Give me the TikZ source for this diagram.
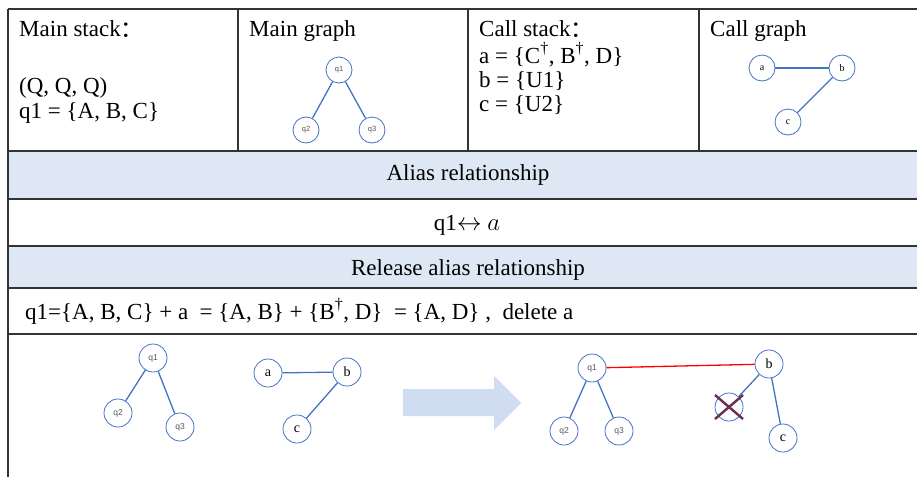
\documentclass[tikz,border=0pt]{standalone}
\usepackage{fontspec}
\setmainfont{Liberation Serif}
\newfontfamily\cjkf{Noto Sans CJK SC}
\newfontfamily\arialf{Liberation Sans}
\usetikzlibrary{calc}
\definecolor{gline}{HTML}{333333}
\definecolor{nodeblue}{HTML}{4472C4}
\definecolor{rowblue}{HTML}{DEE8F4}
\definecolor{arrowblue}{HTML}{D0DCEF}
\definecolor{labgray}{HTML}{555555}
\definecolor{navy}{HTML}{2F3F73}
\tikzset{
  grid/.style={draw=gline, line width=1.4pt},
  txt/.style={anchor=base west, inner sep=0pt, font=\fontsize{23}{26}\selectfont},
  ctxt/.style={anchor=base, inner sep=0pt, font=\fontsize{23}{26}\selectfont},
  qn/.style={circle, draw=nodeblue, line width=0.8pt, minimum size=#1, inner sep=0pt, text=labgray, font=\arialf\fontsize{7.5}{8}\selectfont},
  qn/.default=26pt,
  ln/.style={circle, draw=nodeblue, line width=0.8pt, minimum size=#1, inner sep=0pt, font=\fontsize{10}{11}\selectfont},
  ln/.default=26pt,
  bigq/.style={qn=28pt, font=\arialf\fontsize{8.5}{9}\selectfont},
  bigl/.style={ln=28pt, font=\fontsize{14}{15}\selectfont},
  edge/.style={draw=nodeblue, line width=1.3pt},
}
\begin{document}
\begin{tikzpicture}[x=1pt,y=-1pt]
\useasboundingbox (0,0) rectangle (917,477);
\fill[white] (0,0) rectangle (917,477);
% fills
\fill[rowblue] (8,151) rectangle (917,199);
\fill[rowblue] (8,246) rectangle (917,288);
% grid
\draw[grid] (8,9) -- (917,9);
\draw[grid] (8,9) -- (8,477);
\foreach \x in {238,468,699} \draw[grid] (\x,9) -- (\x,151);
\foreach \y in {151,199,246,288,334} \draw[grid] (8,\y) -- (917,\y);

% row 1 texts
\node[txt] (ms) at (19,36) {Main stack{\cjkf\raisebox{-1pt}{：}}};
\node[txt] (qqq) at (19,93) {(Q, Q, Q)};
\node[txt] (q1set) at (19,118) {q1 = \{A, B, C\}};
\node[txt] (mg) at (249,36) {Main graph};
\node[txt] (cs) at (479,36) {Call stack{\cjkf\raisebox{-1pt}{：}}};
\node[txt] (aset) at (479,63) {a = \{C\textsuperscript{†}, B\textsuperscript{†}, D\}};
\node[txt] (bset) at (479,87) {b = \{U1\}};
\node[txt] (cset) at (479,111) {c = \{U2\}};
\node[txt] (cg) at (710,36) {Call graph};

% main graph
\node[qn] (mq1) at (339,70) {q1};
\node[qn] (mq2) at (306,130) {q2};
\node[qn] (mq3) at (372,130) {q3};
\draw[edge] (mq1) -- (mq2);
\draw[edge] (mq1) -- (mq3);

% call graph
\node[ln] (ca) at (762,68) {a};
\node[ln] (cb) at (842,68) {b};
\node[ln] (cc) at (788,122) {c};
\draw[edge] (ca) -- (cb);
\draw[edge] (cb) -- (cc);

% rows
\node[ctxt] (alias) at (468,180) {Alias relationship};
\node[ctxt] (qa) at (467,230) {q1$\leftrightarrow$ $a$};
\node[ctxt] (rel) at (468,275) {Release alias relationship};
\node[txt] (formula) at (25,319) {q1=\{A, B, C\} + a~ = \{A, B\} + \{B\textsuperscript{†}, D\}~ = \{A, D\} ,~ delete a};

% bottom left graphs
\node[bigq] (lq1) at (153,358) {q1};
\node[bigq] (lq2) at (118,413) {q2};
\node[bigq] (lq3) at (180,427) {q3};
\draw[edge] (lq1) -- (lq2);
\draw[edge] (lq1) -- (lq3);
\node[bigl] (la) at (268,373) {a};
\node[bigl] (lb) at (347,372) {b};
\node[bigl] (lc) at (297,429) {c};
\draw[edge] (la) -- (lb);
\draw[edge] (lb) -- (lc);

% big arrow
\fill[arrowblue] (403,389) -- (494,389) -- (494,376) -- (521,403) -- (494,430) -- (494,416) -- (403,416) -- cycle;

% bottom right graph
\node[bigq] (rq1) at (592,368) {q1};
\node[bigq] (rq2) at (564,431) {q2};
\node[bigq] (rq3) at (619,431) {q3};
\draw[edge] (rq1) -- (rq2);
\draw[edge] (rq1) -- (rq3);
\node[bigl] (rb) at (769,364) {b};
\node[bigl] (rx) at (729,407) {};
\node[bigl] (rc) at (783,438) {c};
\draw[edge] (rb) -- (rx);
\draw[edge] (rb) -- (rc);
\draw[red, line width=1.3pt] (rq1) -- (rb);
\draw[navy, line width=2.4pt] (715,395) -- (743,419);
\draw[navy, line width=2.4pt] (715,419) -- (743,395);
\draw[red, line width=0.5pt] (715,395) -- (743,419);
\draw[red, line width=0.5pt] (715,419) -- (743,395);
\end{tikzpicture}
\end{document}
